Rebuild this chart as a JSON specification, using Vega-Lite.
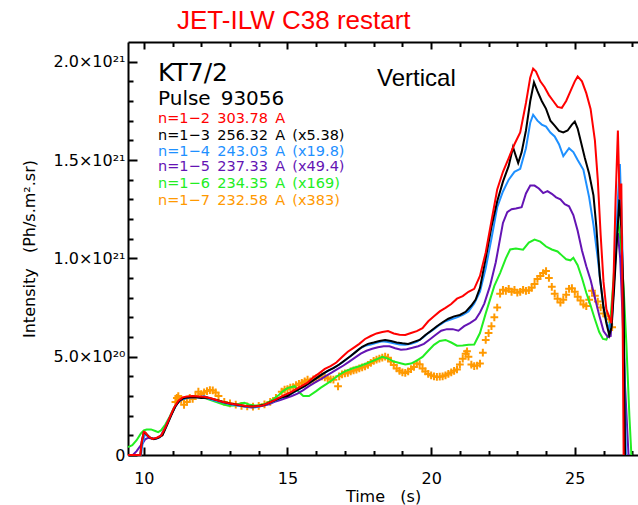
{
  "$schema": "https://vega.github.io/schema/vega-lite/v6.json",
  "width": 510,
  "height": 413,
  "autosize": {"type": "none"},
  "padding": {"left": 128, "top": 42, "right": 0, "bottom": 50},
  "background": "white",
  "config": {
    "view": {"stroke": null},
    "font": "DejaVu Sans",
    "axis": {"domainColor": "black", "domainWidth": 2, "tickColor": "black", "tickWidth": 2, "labelFont": "DejaVu Sans", "labelFontSize": 15, "labelColor": "black", "titleFont": "DejaVu Sans", "titleFontSize": 16, "titleFontWeight": "normal", "titleColor": "black", "grid": false}
  },
  "title": {"text": "JET-ILW C38 restart", "anchor": "start", "frame": "group", "dx": 49, "dy": 26, "offset": 12, "font": "Liberation Sans", "fontSize": 26, "fontWeight": "normal", "color": "#ff0000", "baseline": "alphabetic"},
  "datasets": {
    "n1_2": [
      {"time": 9.45, "intensity": 0}, {"time": 9.88, "intensity": 0}, {"time": 9.92, "intensity": 0.06}, {"time": 10.0, "intensity": 0.118}, {"time": 10.05, "intensity": 0.115}, {"time": 10.15, "intensity": 0.095}, {"time": 10.3, "intensity": 0.082}, {"time": 10.45, "intensity": 0.088}, {"time": 10.6, "intensity": 0.098}, {"time": 10.75, "intensity": 0.14}, {"time": 10.9, "intensity": 0.19}, {"time": 11.05, "intensity": 0.24}, {"time": 11.2, "intensity": 0.275}, {"time": 11.35, "intensity": 0.293}, {"time": 11.5, "intensity": 0.297}, {"time": 11.7, "intensity": 0.3}, {"time": 11.9, "intensity": 0.298}, {"time": 12.1, "intensity": 0.296}, {"time": 12.3, "intensity": 0.29}, {"time": 12.5, "intensity": 0.281}, {"time": 12.7, "intensity": 0.272}, {"time": 12.9, "intensity": 0.265}, {"time": 13.1, "intensity": 0.259}, {"time": 13.3, "intensity": 0.255}, {"time": 13.5, "intensity": 0.25}, {"time": 13.7, "intensity": 0.247}, {"time": 13.9, "intensity": 0.248}, {"time": 14.1, "intensity": 0.25}, {"time": 14.3, "intensity": 0.262}, {"time": 14.5, "intensity": 0.275}, {"time": 14.7, "intensity": 0.29}, {"time": 14.9, "intensity": 0.305}, {"time": 15.1, "intensity": 0.318}, {"time": 15.3, "intensity": 0.335}, {"time": 15.5, "intensity": 0.352}, {"time": 15.7, "intensity": 0.368}, {"time": 15.9, "intensity": 0.395}, {"time": 16.1, "intensity": 0.415}, {"time": 16.3, "intensity": 0.438}, {"time": 16.5, "intensity": 0.452}, {"time": 16.7, "intensity": 0.47}, {"time": 16.9, "intensity": 0.498}, {"time": 17.1, "intensity": 0.525}, {"time": 17.3, "intensity": 0.545}, {"time": 17.5, "intensity": 0.565}, {"time": 17.7, "intensity": 0.59}, {"time": 17.9, "intensity": 0.605}, {"time": 18.1, "intensity": 0.618}, {"time": 18.3, "intensity": 0.625}, {"time": 18.5, "intensity": 0.63}, {"time": 18.7, "intensity": 0.618}, {"time": 18.9, "intensity": 0.612}, {"time": 19.1, "intensity": 0.61}, {"time": 19.3, "intensity": 0.62}, {"time": 19.5, "intensity": 0.63}, {"time": 19.7, "intensity": 0.645}, {"time": 19.9, "intensity": 0.68}, {"time": 20.1, "intensity": 0.705}, {"time": 20.3, "intensity": 0.73}, {"time": 20.5, "intensity": 0.748}, {"time": 20.7, "intensity": 0.768}, {"time": 20.9, "intensity": 0.795}, {"time": 21.1, "intensity": 0.808}, {"time": 21.3, "intensity": 0.83}, {"time": 21.5, "intensity": 0.845}, {"time": 21.7, "intensity": 0.91}, {"time": 21.9, "intensity": 1.03}, {"time": 22.1, "intensity": 1.19}, {"time": 22.3, "intensity": 1.35}, {"time": 22.5, "intensity": 1.44}, {"time": 22.7, "intensity": 1.51}, {"time": 22.9, "intensity": 1.58}, {"time": 23.1, "intensity": 1.64}, {"time": 23.3, "intensity": 1.79}, {"time": 23.45, "intensity": 1.92}, {"time": 23.55, "intensity": 1.965}, {"time": 23.65, "intensity": 1.95}, {"time": 23.8, "intensity": 1.9}, {"time": 23.95, "intensity": 1.87}, {"time": 24.1, "intensity": 1.83}, {"time": 24.25, "intensity": 1.8}, {"time": 24.4, "intensity": 1.77}, {"time": 24.55, "intensity": 1.765}, {"time": 24.7, "intensity": 1.8}, {"time": 24.85, "intensity": 1.85}, {"time": 25.0, "intensity": 1.9}, {"time": 25.1, "intensity": 1.925}, {"time": 25.25, "intensity": 1.9}, {"time": 25.4, "intensity": 1.84}, {"time": 25.55, "intensity": 1.76}, {"time": 25.7, "intensity": 1.6}, {"time": 25.8, "intensity": 1.4}, {"time": 25.9, "intensity": 1.12}, {"time": 26.0, "intensity": 0.88}, {"time": 26.1, "intensity": 0.74}, {"time": 26.2, "intensity": 0.7}, {"time": 26.27, "intensity": 0.67}, {"time": 26.35, "intensity": 0.9}, {"time": 26.42, "intensity": 1.3}, {"time": 26.5, "intensity": 1.65}, {"time": 26.56, "intensity": 1.3}, {"time": 26.62, "intensity": 1.38}, {"time": 26.66, "intensity": 0.8}, {"time": 26.7, "intensity": 0}
    ],
    "n1_3": [
      {"time": 9.45, "intensity": 0}, {"time": 9.88, "intensity": 0}, {"time": 9.93, "intensity": 0.07}, {"time": 10.0, "intensity": 0.115}, {"time": 10.05, "intensity": 0.112}, {"time": 10.2, "intensity": 0.09}, {"time": 10.35, "intensity": 0.08}, {"time": 10.5, "intensity": 0.087}, {"time": 10.65, "intensity": 0.1}, {"time": 10.8, "intensity": 0.15}, {"time": 10.95, "intensity": 0.2}, {"time": 11.1, "intensity": 0.248}, {"time": 11.25, "intensity": 0.278}, {"time": 11.4, "intensity": 0.29}, {"time": 11.6, "intensity": 0.293}, {"time": 11.8, "intensity": 0.295}, {"time": 12.0, "intensity": 0.29}, {"time": 12.2, "intensity": 0.292}, {"time": 12.4, "intensity": 0.285}, {"time": 12.6, "intensity": 0.277}, {"time": 12.8, "intensity": 0.268}, {"time": 13.0, "intensity": 0.262}, {"time": 13.2, "intensity": 0.257}, {"time": 13.4, "intensity": 0.252}, {"time": 13.6, "intensity": 0.248}, {"time": 13.8, "intensity": 0.246}, {"time": 14.0, "intensity": 0.249}, {"time": 14.2, "intensity": 0.255}, {"time": 14.4, "intensity": 0.268}, {"time": 14.6, "intensity": 0.28}, {"time": 14.8, "intensity": 0.293}, {"time": 15.0, "intensity": 0.3}, {"time": 15.2, "intensity": 0.318}, {"time": 15.4, "intensity": 0.335}, {"time": 15.6, "intensity": 0.35}, {"time": 15.8, "intensity": 0.37}, {"time": 16.0, "intensity": 0.39}, {"time": 16.2, "intensity": 0.41}, {"time": 16.4, "intensity": 0.428}, {"time": 16.6, "intensity": 0.442}, {"time": 16.8, "intensity": 0.46}, {"time": 17.0, "intensity": 0.482}, {"time": 17.2, "intensity": 0.503}, {"time": 17.4, "intensity": 0.527}, {"time": 17.6, "intensity": 0.55}, {"time": 17.8, "intensity": 0.565}, {"time": 18.0, "intensity": 0.572}, {"time": 18.2, "intensity": 0.58}, {"time": 18.4, "intensity": 0.585}, {"time": 18.6, "intensity": 0.58}, {"time": 18.8, "intensity": 0.572}, {"time": 19.0, "intensity": 0.568}, {"time": 19.2, "intensity": 0.565}, {"time": 19.4, "intensity": 0.575}, {"time": 19.6, "intensity": 0.585}, {"time": 19.8, "intensity": 0.61}, {"time": 20.0, "intensity": 0.632}, {"time": 20.2, "intensity": 0.655}, {"time": 20.4, "intensity": 0.675}, {"time": 20.6, "intensity": 0.693}, {"time": 20.8, "intensity": 0.705}, {"time": 21.0, "intensity": 0.712}, {"time": 21.2, "intensity": 0.728}, {"time": 21.4, "intensity": 0.76}, {"time": 21.55, "intensity": 0.79}, {"time": 21.7, "intensity": 0.85}, {"time": 21.9, "intensity": 1.0}, {"time": 22.1, "intensity": 1.16}, {"time": 22.3, "intensity": 1.29}, {"time": 22.5, "intensity": 1.39}, {"time": 22.7, "intensity": 1.47}, {"time": 22.85, "intensity": 1.565}, {"time": 22.95, "intensity": 1.52}, {"time": 23.03, "intensity": 1.485}, {"time": 23.15, "intensity": 1.54}, {"time": 23.3, "intensity": 1.65}, {"time": 23.45, "intensity": 1.8}, {"time": 23.58, "intensity": 1.895}, {"time": 23.7, "intensity": 1.85}, {"time": 23.85, "intensity": 1.8}, {"time": 24.0, "intensity": 1.76}, {"time": 24.15, "intensity": 1.7}, {"time": 24.3, "intensity": 1.675}, {"time": 24.45, "intensity": 1.648}, {"time": 24.6, "intensity": 1.64}, {"time": 24.75, "intensity": 1.65}, {"time": 24.9, "intensity": 1.68}, {"time": 25.0, "intensity": 1.695}, {"time": 25.1, "intensity": 1.66}, {"time": 25.2, "intensity": 1.6}, {"time": 25.35, "intensity": 1.51}, {"time": 25.5, "intensity": 1.43}, {"time": 25.65, "intensity": 1.32}, {"time": 25.75, "intensity": 1.16}, {"time": 25.87, "intensity": 0.91}, {"time": 26.0, "intensity": 0.75}, {"time": 26.1, "intensity": 0.67}, {"time": 26.2, "intensity": 0.61}, {"time": 26.28, "intensity": 0.65}, {"time": 26.37, "intensity": 0.85}, {"time": 26.45, "intensity": 1.05}, {"time": 26.55, "intensity": 1.3}, {"time": 26.62, "intensity": 1.15}, {"time": 26.7, "intensity": 0.8}, {"time": 26.75, "intensity": 0}
    ],
    "n1_4": [
      {"time": 9.45, "intensity": 0}, {"time": 9.9, "intensity": 0}, {"time": 9.95, "intensity": 0.05}, {"time": 10.02, "intensity": 0.1}, {"time": 10.1, "intensity": 0.1}, {"time": 10.25, "intensity": 0.085}, {"time": 10.4, "intensity": 0.082}, {"time": 10.55, "intensity": 0.09}, {"time": 10.7, "intensity": 0.12}, {"time": 10.85, "intensity": 0.17}, {"time": 11.0, "intensity": 0.22}, {"time": 11.15, "intensity": 0.26}, {"time": 11.3, "intensity": 0.282}, {"time": 11.5, "intensity": 0.29}, {"time": 11.7, "intensity": 0.295}, {"time": 11.9, "intensity": 0.293}, {"time": 12.1, "intensity": 0.3}, {"time": 12.3, "intensity": 0.285}, {"time": 12.5, "intensity": 0.276}, {"time": 12.7, "intensity": 0.27}, {"time": 12.9, "intensity": 0.262}, {"time": 13.1, "intensity": 0.256}, {"time": 13.3, "intensity": 0.25}, {"time": 13.5, "intensity": 0.248}, {"time": 13.7, "intensity": 0.244}, {"time": 13.9, "intensity": 0.243}, {"time": 14.1, "intensity": 0.25}, {"time": 14.3, "intensity": 0.26}, {"time": 14.5, "intensity": 0.272}, {"time": 14.7, "intensity": 0.285}, {"time": 14.9, "intensity": 0.297}, {"time": 15.1, "intensity": 0.31}, {"time": 15.3, "intensity": 0.325}, {"time": 15.5, "intensity": 0.342}, {"time": 15.7, "intensity": 0.36}, {"time": 15.9, "intensity": 0.38}, {"time": 16.1, "intensity": 0.4}, {"time": 16.3, "intensity": 0.418}, {"time": 16.5, "intensity": 0.435}, {"time": 16.7, "intensity": 0.45}, {"time": 16.9, "intensity": 0.47}, {"time": 17.1, "intensity": 0.492}, {"time": 17.3, "intensity": 0.515}, {"time": 17.5, "intensity": 0.54}, {"time": 17.7, "intensity": 0.555}, {"time": 17.9, "intensity": 0.562}, {"time": 18.1, "intensity": 0.57}, {"time": 18.3, "intensity": 0.578}, {"time": 18.5, "intensity": 0.575}, {"time": 18.7, "intensity": 0.568}, {"time": 18.9, "intensity": 0.562}, {"time": 19.1, "intensity": 0.56}, {"time": 19.3, "intensity": 0.565}, {"time": 19.5, "intensity": 0.575}, {"time": 19.7, "intensity": 0.595}, {"time": 19.9, "intensity": 0.62}, {"time": 20.1, "intensity": 0.64}, {"time": 20.3, "intensity": 0.662}, {"time": 20.5, "intensity": 0.68}, {"time": 20.7, "intensity": 0.69}, {"time": 20.9, "intensity": 0.7}, {"time": 21.1, "intensity": 0.712}, {"time": 21.3, "intensity": 0.73}, {"time": 21.5, "intensity": 0.77}, {"time": 21.7, "intensity": 0.83}, {"time": 21.9, "intensity": 0.95}, {"time": 22.1, "intensity": 1.1}, {"time": 22.3, "intensity": 1.26}, {"time": 22.5, "intensity": 1.34}, {"time": 22.7, "intensity": 1.4}, {"time": 22.9, "intensity": 1.44}, {"time": 23.1, "intensity": 1.455}, {"time": 23.3, "intensity": 1.56}, {"time": 23.45, "intensity": 1.69}, {"time": 23.55, "intensity": 1.73}, {"time": 23.7, "intensity": 1.7}, {"time": 23.85, "intensity": 1.68}, {"time": 24.0, "intensity": 1.67}, {"time": 24.15, "intensity": 1.64}, {"time": 24.3, "intensity": 1.62}, {"time": 24.45, "intensity": 1.58}, {"time": 24.6, "intensity": 1.52}, {"time": 24.8, "intensity": 1.56}, {"time": 24.95, "intensity": 1.54}, {"time": 25.1, "intensity": 1.5}, {"time": 25.3, "intensity": 1.45}, {"time": 25.5, "intensity": 1.31}, {"time": 25.65, "intensity": 1.17}, {"time": 25.8, "intensity": 1.0}, {"time": 25.9, "intensity": 0.87}, {"time": 26.0, "intensity": 0.75}, {"time": 26.1, "intensity": 0.68}, {"time": 26.2, "intensity": 0.64}, {"time": 26.3, "intensity": 0.7}, {"time": 26.4, "intensity": 0.98}, {"time": 26.5, "intensity": 1.3}, {"time": 26.57, "intensity": 1.48}, {"time": 26.65, "intensity": 1.1}, {"time": 26.72, "intensity": 0.5}, {"time": 26.78, "intensity": 0}
    ],
    "n1_5": [
      {"time": 9.45, "intensity": 0}, {"time": 9.62, "intensity": 0}, {"time": 9.75, "intensity": 0.02}, {"time": 9.9, "intensity": 0.05}, {"time": 9.97, "intensity": 0.062}, {"time": 10.05, "intensity": 0.08}, {"time": 10.15, "intensity": 0.087}, {"time": 10.3, "intensity": 0.083}, {"time": 10.45, "intensity": 0.085}, {"time": 10.6, "intensity": 0.1}, {"time": 10.75, "intensity": 0.14}, {"time": 10.9, "intensity": 0.19}, {"time": 11.05, "intensity": 0.235}, {"time": 11.2, "intensity": 0.27}, {"time": 11.35, "intensity": 0.285}, {"time": 11.55, "intensity": 0.292}, {"time": 11.75, "intensity": 0.295}, {"time": 11.95, "intensity": 0.293}, {"time": 12.15, "intensity": 0.29}, {"time": 12.35, "intensity": 0.285}, {"time": 12.55, "intensity": 0.276}, {"time": 12.75, "intensity": 0.268}, {"time": 12.95, "intensity": 0.261}, {"time": 13.15, "intensity": 0.256}, {"time": 13.35, "intensity": 0.25}, {"time": 13.55, "intensity": 0.245}, {"time": 13.75, "intensity": 0.242}, {"time": 13.95, "intensity": 0.245}, {"time": 14.15, "intensity": 0.25}, {"time": 14.35, "intensity": 0.258}, {"time": 14.55, "intensity": 0.27}, {"time": 14.75, "intensity": 0.28}, {"time": 14.95, "intensity": 0.29}, {"time": 15.15, "intensity": 0.3}, {"time": 15.35, "intensity": 0.312}, {"time": 15.55, "intensity": 0.33}, {"time": 15.75, "intensity": 0.35}, {"time": 15.95, "intensity": 0.368}, {"time": 16.15, "intensity": 0.385}, {"time": 16.35, "intensity": 0.403}, {"time": 16.55, "intensity": 0.42}, {"time": 16.75, "intensity": 0.438}, {"time": 16.95, "intensity": 0.455}, {"time": 17.15, "intensity": 0.475}, {"time": 17.35, "intensity": 0.495}, {"time": 17.55, "intensity": 0.515}, {"time": 17.75, "intensity": 0.53}, {"time": 17.95, "intensity": 0.54}, {"time": 18.15, "intensity": 0.548}, {"time": 18.35, "intensity": 0.553}, {"time": 18.55, "intensity": 0.553}, {"time": 18.75, "intensity": 0.543}, {"time": 18.95, "intensity": 0.535}, {"time": 19.15, "intensity": 0.538}, {"time": 19.35, "intensity": 0.545}, {"time": 19.55, "intensity": 0.553}, {"time": 19.75, "intensity": 0.565}, {"time": 19.95, "intensity": 0.587}, {"time": 20.15, "intensity": 0.61}, {"time": 20.35, "intensity": 0.632}, {"time": 20.55, "intensity": 0.64}, {"time": 20.75, "intensity": 0.64}, {"time": 20.95, "intensity": 0.632}, {"time": 21.15, "intensity": 0.655}, {"time": 21.35, "intensity": 0.671}, {"time": 21.55, "intensity": 0.69}, {"time": 21.7, "intensity": 0.725}, {"time": 21.85, "intensity": 0.77}, {"time": 22.05, "intensity": 0.86}, {"time": 22.25, "intensity": 0.98}, {"time": 22.4, "intensity": 1.1}, {"time": 22.5, "intensity": 1.18}, {"time": 22.65, "intensity": 1.235}, {"time": 22.8, "intensity": 1.25}, {"time": 22.95, "intensity": 1.253}, {"time": 23.15, "intensity": 1.26}, {"time": 23.3, "intensity": 1.33}, {"time": 23.45, "intensity": 1.37}, {"time": 23.6, "intensity": 1.37}, {"time": 23.75, "intensity": 1.355}, {"time": 23.9, "intensity": 1.332}, {"time": 24.05, "intensity": 1.342}, {"time": 24.2, "intensity": 1.328}, {"time": 24.35, "intensity": 1.31}, {"time": 24.5, "intensity": 1.3}, {"time": 24.65, "intensity": 1.275}, {"time": 24.8, "intensity": 1.265}, {"time": 24.95, "intensity": 1.22}, {"time": 25.1, "intensity": 1.14}, {"time": 25.25, "intensity": 1.04}, {"time": 25.4, "intensity": 0.96}, {"time": 25.55, "intensity": 0.89}, {"time": 25.7, "intensity": 0.8}, {"time": 25.85, "intensity": 0.71}, {"time": 26.0, "intensity": 0.63}, {"time": 26.15, "intensity": 0.6}, {"time": 26.25, "intensity": 0.605}, {"time": 26.35, "intensity": 0.85}, {"time": 26.45, "intensity": 1.08}, {"time": 26.5, "intensity": 1.128}, {"time": 26.58, "intensity": 1.0}, {"time": 26.65, "intensity": 0.75}, {"time": 26.75, "intensity": 0.35}, {"time": 26.87, "intensity": 0}
    ],
    "n1_6": [
      {"time": 9.45, "intensity": 0.04}, {"time": 9.6, "intensity": 0.05}, {"time": 9.75, "intensity": 0.075}, {"time": 9.9, "intensity": 0.11}, {"time": 10.0, "intensity": 0.125}, {"time": 10.1, "intensity": 0.13}, {"time": 10.25, "intensity": 0.13}, {"time": 10.4, "intensity": 0.122}, {"time": 10.5, "intensity": 0.116}, {"time": 10.6, "intensity": 0.125}, {"time": 10.75, "intensity": 0.155}, {"time": 10.9, "intensity": 0.195}, {"time": 11.05, "intensity": 0.24}, {"time": 11.2, "intensity": 0.272}, {"time": 11.35, "intensity": 0.287}, {"time": 11.55, "intensity": 0.293}, {"time": 11.75, "intensity": 0.297}, {"time": 11.95, "intensity": 0.293}, {"time": 12.15, "intensity": 0.288}, {"time": 12.35, "intensity": 0.278}, {"time": 12.55, "intensity": 0.268}, {"time": 12.75, "intensity": 0.258}, {"time": 12.95, "intensity": 0.25}, {"time": 13.15, "intensity": 0.252}, {"time": 13.35, "intensity": 0.262}, {"time": 13.5, "intensity": 0.265}, {"time": 13.7, "intensity": 0.255}, {"time": 13.9, "intensity": 0.25}, {"time": 14.1, "intensity": 0.255}, {"time": 14.3, "intensity": 0.265}, {"time": 14.5, "intensity": 0.283}, {"time": 14.7, "intensity": 0.305}, {"time": 14.85, "intensity": 0.325}, {"time": 15.0, "intensity": 0.34}, {"time": 15.25, "intensity": 0.35}, {"time": 15.4, "intensity": 0.32}, {"time": 15.55, "intensity": 0.3}, {"time": 15.75, "intensity": 0.3}, {"time": 16.0, "intensity": 0.325}, {"time": 16.15, "intensity": 0.341}, {"time": 16.35, "intensity": 0.36}, {"time": 16.55, "intensity": 0.38}, {"time": 16.8, "intensity": 0.408}, {"time": 17.0, "intensity": 0.425}, {"time": 17.25, "intensity": 0.44}, {"time": 17.5, "intensity": 0.451}, {"time": 17.75, "intensity": 0.465}, {"time": 18.0, "intensity": 0.48}, {"time": 18.3, "intensity": 0.499}, {"time": 18.5, "intensity": 0.49}, {"time": 18.7, "intensity": 0.475}, {"time": 18.9, "intensity": 0.468}, {"time": 19.1, "intensity": 0.46}, {"time": 19.3, "intensity": 0.465}, {"time": 19.5, "intensity": 0.48}, {"time": 19.7, "intensity": 0.499}, {"time": 19.9, "intensity": 0.53}, {"time": 20.1, "intensity": 0.56}, {"time": 20.3, "intensity": 0.58}, {"time": 20.5, "intensity": 0.585}, {"time": 20.7, "intensity": 0.572}, {"time": 20.9, "intensity": 0.556}, {"time": 21.1, "intensity": 0.557}, {"time": 21.3, "intensity": 0.561}, {"time": 21.5, "intensity": 0.562}, {"time": 21.7, "intensity": 0.62}, {"time": 21.9, "intensity": 0.72}, {"time": 22.05, "intensity": 0.79}, {"time": 22.2, "intensity": 0.86}, {"time": 22.4, "intensity": 0.925}, {"time": 22.6, "intensity": 1.0}, {"time": 22.75, "intensity": 1.045}, {"time": 22.95, "intensity": 1.05}, {"time": 23.2, "intensity": 1.044}, {"time": 23.4, "intensity": 1.08}, {"time": 23.6, "intensity": 1.095}, {"time": 23.8, "intensity": 1.085}, {"time": 24.0, "intensity": 1.06}, {"time": 24.2, "intensity": 1.045}, {"time": 24.4, "intensity": 1.035}, {"time": 24.55, "intensity": 1.015}, {"time": 24.7, "intensity": 0.995}, {"time": 24.85, "intensity": 0.99}, {"time": 24.95, "intensity": 1.003}, {"time": 25.1, "intensity": 0.965}, {"time": 25.25, "intensity": 0.9}, {"time": 25.4, "intensity": 0.825}, {"time": 25.55, "intensity": 0.76}, {"time": 25.7, "intensity": 0.69}, {"time": 25.85, "intensity": 0.625}, {"time": 25.98, "intensity": 0.59}, {"time": 26.1, "intensity": 0.587}, {"time": 26.2, "intensity": 0.62}, {"time": 26.3, "intensity": 0.8}, {"time": 26.4, "intensity": 1.0}, {"time": 26.5, "intensity": 1.21}, {"time": 26.6, "intensity": 1.07}, {"time": 26.7, "intensity": 0.85}, {"time": 26.8, "intensity": 0.55}, {"time": 26.9, "intensity": 0.2}, {"time": 26.97, "intensity": 0}
    ],
    "n1_7": [
      {"time": 11.1, "intensity": 0.27}, {"time": 11.15, "intensity": 0.29}, {"time": 11.2, "intensity": 0.3}, {"time": 11.3, "intensity": 0.28}, {"time": 11.4, "intensity": 0.255}, {"time": 11.5, "intensity": 0.27}, {"time": 11.6, "intensity": 0.29}, {"time": 11.7, "intensity": 0.285}, {"time": 11.8, "intensity": 0.3}, {"time": 11.9, "intensity": 0.322}, {"time": 12.0, "intensity": 0.31}, {"time": 12.1, "intensity": 0.318}, {"time": 12.2, "intensity": 0.325}, {"time": 12.3, "intensity": 0.33}, {"time": 12.4, "intensity": 0.328}, {"time": 12.5, "intensity": 0.318}, {"time": 12.6, "intensity": 0.3}, {"time": 12.8, "intensity": 0.27}, {"time": 13.0, "intensity": 0.262}, {"time": 13.2, "intensity": 0.256}, {"time": 13.4, "intensity": 0.25}, {"time": 13.6, "intensity": 0.247}, {"time": 13.8, "intensity": 0.246}, {"time": 14.0, "intensity": 0.25}, {"time": 14.2, "intensity": 0.258}, {"time": 14.4, "intensity": 0.27}, {"time": 14.6, "intensity": 0.29}, {"time": 14.8, "intensity": 0.322}, {"time": 14.9, "intensity": 0.333}, {"time": 15.0, "intensity": 0.335}, {"time": 15.1, "intensity": 0.343}, {"time": 15.2, "intensity": 0.345}, {"time": 15.3, "intensity": 0.355}, {"time": 15.4, "intensity": 0.362}, {"time": 15.5, "intensity": 0.367}, {"time": 15.6, "intensity": 0.375}, {"time": 15.7, "intensity": 0.383}, {"time": 15.8, "intensity": 0.375}, {"time": 15.9, "intensity": 0.385}, {"time": 16.0, "intensity": 0.39}, {"time": 16.1, "intensity": 0.398}, {"time": 16.2, "intensity": 0.4}, {"time": 16.3, "intensity": 0.395}, {"time": 16.4, "intensity": 0.39}, {"time": 16.5, "intensity": 0.385}, {"time": 16.6, "intensity": 0.383}, {"time": 16.76, "intensity": 0.349}, {"time": 16.8, "intensity": 0.4}, {"time": 16.9, "intensity": 0.41}, {"time": 17.0, "intensity": 0.415}, {"time": 17.1, "intensity": 0.418}, {"time": 17.2, "intensity": 0.425}, {"time": 17.3, "intensity": 0.43}, {"time": 17.4, "intensity": 0.434}, {"time": 17.5, "intensity": 0.44}, {"time": 17.6, "intensity": 0.445}, {"time": 17.7, "intensity": 0.45}, {"time": 17.8, "intensity": 0.458}, {"time": 17.9, "intensity": 0.468}, {"time": 18.0, "intensity": 0.478}, {"time": 18.1, "intensity": 0.485}, {"time": 18.2, "intensity": 0.49}, {"time": 18.3, "intensity": 0.495}, {"time": 18.4, "intensity": 0.5}, {"time": 18.5, "intensity": 0.495}, {"time": 18.6, "intensity": 0.475}, {"time": 18.7, "intensity": 0.458}, {"time": 18.8, "intensity": 0.44}, {"time": 18.9, "intensity": 0.428}, {"time": 19.0, "intensity": 0.42}, {"time": 19.1, "intensity": 0.417}, {"time": 19.2, "intensity": 0.425}, {"time": 19.3, "intensity": 0.437}, {"time": 19.4, "intensity": 0.448}, {"time": 19.5, "intensity": 0.465}, {"time": 19.6, "intensity": 0.462}, {"time": 19.7, "intensity": 0.44}, {"time": 19.8, "intensity": 0.425}, {"time": 19.9, "intensity": 0.412}, {"time": 20.0, "intensity": 0.405}, {"time": 20.1, "intensity": 0.4}, {"time": 20.2, "intensity": 0.397}, {"time": 20.3, "intensity": 0.398}, {"time": 20.4, "intensity": 0.4}, {"time": 20.5, "intensity": 0.405}, {"time": 20.6, "intensity": 0.413}, {"time": 20.7, "intensity": 0.42}, {"time": 20.8, "intensity": 0.428}, {"time": 20.9, "intensity": 0.435}, {"time": 21.0, "intensity": 0.46}, {"time": 21.1, "intensity": 0.49}, {"time": 21.2, "intensity": 0.515}, {"time": 21.25, "intensity": 0.527}, {"time": 21.3, "intensity": 0.5}, {"time": 21.4, "intensity": 0.46}, {"time": 21.5, "intensity": 0.452}, {"time": 21.6, "intensity": 0.455}, {"time": 21.7, "intensity": 0.465}, {"time": 21.8, "intensity": 0.52}, {"time": 21.9, "intensity": 0.585}, {"time": 22.0, "intensity": 0.62}, {"time": 22.1, "intensity": 0.655}, {"time": 22.2, "intensity": 0.7}, {"time": 22.3, "intensity": 0.75}, {"time": 22.4, "intensity": 0.82}, {"time": 22.5, "intensity": 0.84}, {"time": 22.6, "intensity": 0.835}, {"time": 22.7, "intensity": 0.845}, {"time": 22.8, "intensity": 0.83}, {"time": 22.9, "intensity": 0.84}, {"time": 23.0, "intensity": 0.825}, {"time": 23.1, "intensity": 0.83}, {"time": 23.2, "intensity": 0.84}, {"time": 23.3, "intensity": 0.835}, {"time": 23.4, "intensity": 0.838}, {"time": 23.5, "intensity": 0.85}, {"time": 23.6, "intensity": 0.87}, {"time": 23.7, "intensity": 0.895}, {"time": 23.8, "intensity": 0.91}, {"time": 23.9, "intensity": 0.925}, {"time": 24.0, "intensity": 0.935}, {"time": 24.1, "intensity": 0.9}, {"time": 24.2, "intensity": 0.855}, {"time": 24.3, "intensity": 0.82}, {"time": 24.4, "intensity": 0.795}, {"time": 24.5, "intensity": 0.775}, {"time": 24.6, "intensity": 0.79}, {"time": 24.7, "intensity": 0.815}, {"time": 24.8, "intensity": 0.845}, {"time": 24.9, "intensity": 0.848}, {"time": 25.0, "intensity": 0.83}, {"time": 25.1, "intensity": 0.805}, {"time": 25.2, "intensity": 0.785}, {"time": 25.3, "intensity": 0.765}, {"time": 25.4, "intensity": 0.757}, {"time": 25.5, "intensity": 0.79}, {"time": 25.6, "intensity": 0.835}, {"time": 25.7, "intensity": 0.81}, {"time": 25.8, "intensity": 0.78}, {"time": 25.9, "intensity": 0.75}, {"time": 26.0, "intensity": 0.72}, {"time": 26.1, "intensity": 0.705}, {"time": 26.2, "intensity": 0.69}, {"time": 26.3, "intensity": 0.65}
    ]
  },
  "layer": [
    {
      "data": {"name": "n1_7"},
      "mark": {"type": "point", "shape": "M-1,0L1,0M0,-1L0,1", "filled": false, "color": "#ff9900", "strokeWidth": 2, "size": 60, "opacity": 1},
      "encoding": {
        "x": {"field": "time", "type": "quantitative", "scale": {"domain": [9.45, 27.2], "nice": false, "zero": false},
          "axis": {"orient": "bottom", "title": "Time\u00a0\u00a0\u00a0(s)", "titlePadding": 2, "values": [10,11,12,13,14,15,16,17,18,19,20,21,22,23,24,25,26,27], "labelExpr": "datum.value % 5 == 0 ? datum.value : ''", "tickSize": {"condition": {"test": "datum.value % 5 == 0", "value": -8}, "value": -4.5}, "labelPadding": 23, "labelFontSize": 16}},
        "y": {"field": "intensity", "type": "quantitative", "scale": {"domain": [0, 2.1], "nice": false, "zero": false},
          "axis": {"orient": "left", "title": "Intensity\u00a0\u00a0\u00a0(Ph/s.m².sr)", "titlePadding": 15, "values": [0,0.1,0.2,0.3,0.4,0.5,0.6,0.7,0.8,0.9,1,1.1,1.2,1.3,1.4,1.5,1.6,1.7,1.8,1.9,2], "labelExpr": "datum.value == 0 ? '0' : (abs(datum.value*2 - round(datum.value*2)) < 0.001 ? (datum.value < 1 ? format(datum.value*10, '.1f') + '×10²⁰' : format(datum.value, '.1f') + '×10²¹') : '')", "tickSize": {"condition": {"test": "abs(datum.value*2 - round(datum.value*2)) < 0.001", "value": -9}, "value": -5}, "labelPadding": 12, "labelFontSize": 16, "labelFlush": false, "labelAlign": "right", "labelBaseline": "middle"}}
      }
    },
    {
      "data": {"name": "n1_6"},
      "mark": {"type": "line", "color": "#22ee22", "strokeWidth": 2},
      "encoding": {
        "x": {"field": "time", "type": "quantitative", "scale": {"domain": [9.45, 27.2], "nice": false, "zero": false},
          "axis": {"orient": "top", "title": null, "labels": false, "values": [10,11,12,13,14,15,16,17,18,19,20,21,22,23,24,25,26,27], "tickSize": {"condition": {"test": "datum.value % 5 == 0", "value": -7}, "value": -4.5}}},
        "y": {"field": "intensity", "type": "quantitative", "scale": {"domain": [0, 2.1], "nice": false, "zero": false}, "axis": null}
      }
    },
    {
      "data": {"name": "n1_5"},
      "mark": {"type": "line", "color": "#6414b4", "strokeWidth": 2},
      "encoding": {
        "x": {"field": "time", "type": "quantitative", "scale": {"domain": [9.45, 27.2], "nice": false, "zero": false}, "axis": null},
        "y": {"field": "intensity", "type": "quantitative", "scale": {"domain": [0, 2.1], "nice": false, "zero": false}, "axis": null}
      }
    },
    {
      "data": {"name": "n1_4"},
      "mark": {"type": "line", "color": "#1e90ff", "strokeWidth": 2},
      "encoding": {
        "x": {"field": "time", "type": "quantitative", "scale": {"domain": [9.45, 27.2], "nice": false, "zero": false}, "axis": null},
        "y": {"field": "intensity", "type": "quantitative", "scale": {"domain": [0, 2.1], "nice": false, "zero": false}, "axis": null}
      }
    },
    {
      "data": {"name": "n1_3"},
      "mark": {"type": "line", "color": "#000000", "strokeWidth": 2},
      "encoding": {
        "x": {"field": "time", "type": "quantitative", "scale": {"domain": [9.45, 27.2], "nice": false, "zero": false}, "axis": null},
        "y": {"field": "intensity", "type": "quantitative", "scale": {"domain": [0, 2.1], "nice": false, "zero": false}, "axis": null}
      }
    },
    {
      "data": {"name": "n1_2"},
      "mark": {"type": "line", "color": "#ff0000", "strokeWidth": 2},
      "encoding": {
        "x": {"field": "time", "type": "quantitative", "scale": {"domain": [9.45, 27.2], "nice": false, "zero": false}, "axis": null},
        "y": {"field": "intensity", "type": "quantitative", "scale": {"domain": [0, 2.1], "nice": false, "zero": false}, "axis": null}
      }
    },
    {
      "data": {"values": [{}]},
      "mark": {"type": "text", "text": "KT7/2", "align": "left", "baseline": "middle", "font": "DejaVu Sans", "fontSize": 25, "color": "black"},
      "encoding": {"x": {"datum": 10.494, "type": "quantitative", "axis": null}, "y": {"datum": 1.943, "type": "quantitative", "axis": null}}
    },
    {
      "data": {"values": [{}]},
      "mark": {"type": "text", "text": "Pulse\u200293056", "align": "left", "baseline": "middle", "font": "DejaVu Sans", "fontSize": 20, "color": "black"},
      "encoding": {"x": {"datum": 10.494, "type": "quantitative", "axis": null}, "y": {"datum": 1.812, "type": "quantitative", "axis": null}}
    },
    {
      "data": {"values": [{}]},
      "mark": {"type": "text", "text": "n=1−2\u2002303.78\u2002A", "align": "left", "baseline": "middle", "font": "DejaVu Sans", "fontSize": 14.5, "color": "#ff0000"},
      "encoding": {"x": {"datum": 10.494, "type": "quantitative", "axis": null}, "y": {"datum": 1.707, "type": "quantitative", "axis": null}}
    },
    {
      "data": {"values": [{}]},
      "mark": {"type": "text", "text": "n=1−3\u2002256.32\u2002A\u2002(x5.38)", "align": "left", "baseline": "middle", "font": "DejaVu Sans", "fontSize": 14.5, "color": "#000000"},
      "encoding": {"x": {"datum": 10.494, "type": "quantitative", "axis": null}, "y": {"datum": 1.622, "type": "quantitative", "axis": null}}
    },
    {
      "data": {"values": [{}]},
      "mark": {"type": "text", "text": "n=1−4\u2002243.03\u2002A\u2002(x19.8)", "align": "left", "baseline": "middle", "font": "DejaVu Sans", "fontSize": 14.5, "color": "#1e90ff"},
      "encoding": {"x": {"datum": 10.494, "type": "quantitative", "axis": null}, "y": {"datum": 1.542, "type": "quantitative", "axis": null}}
    },
    {
      "data": {"values": [{}]},
      "mark": {"type": "text", "text": "n=1−5\u2002237.33\u2002A\u2002(x49.4)", "align": "left", "baseline": "middle", "font": "DejaVu Sans", "fontSize": 14.5, "color": "#6414b4"},
      "encoding": {"x": {"datum": 10.494, "type": "quantitative", "axis": null}, "y": {"datum": 1.463, "type": "quantitative", "axis": null}}
    },
    {
      "data": {"values": [{}]},
      "mark": {"type": "text", "text": "n=1−6\u2002234.35\u2002A\u2002(x169)", "align": "left", "baseline": "middle", "font": "DejaVu Sans", "fontSize": 14.5, "color": "#22ee22"},
      "encoding": {"x": {"datum": 10.494, "type": "quantitative", "axis": null}, "y": {"datum": 1.378, "type": "quantitative", "axis": null}}
    },
    {
      "data": {"values": [{}]},
      "mark": {"type": "text", "text": "n=1−7\u2002232.58\u2002A\u2002(x383)", "align": "left", "baseline": "middle", "font": "DejaVu Sans", "fontSize": 14.5, "color": "#ff9900"},
      "encoding": {"x": {"datum": 10.494, "type": "quantitative", "axis": null}, "y": {"datum": 1.293, "type": "quantitative", "axis": null}}
    },
    {
      "data": {"values": [{}]},
      "mark": {"type": "text", "text": "Vertical", "align": "left", "baseline": "middle", "font": "Liberation Sans", "fontSize": 24, "color": "black"},
      "encoding": {"x": {"datum": 18.117, "type": "quantitative", "axis": null}, "y": {"datum": 1.91, "type": "quantitative", "axis": null}}
    }
  ],
  "resolve": {"axis": {"x": "independent", "y": "independent"}}
}
